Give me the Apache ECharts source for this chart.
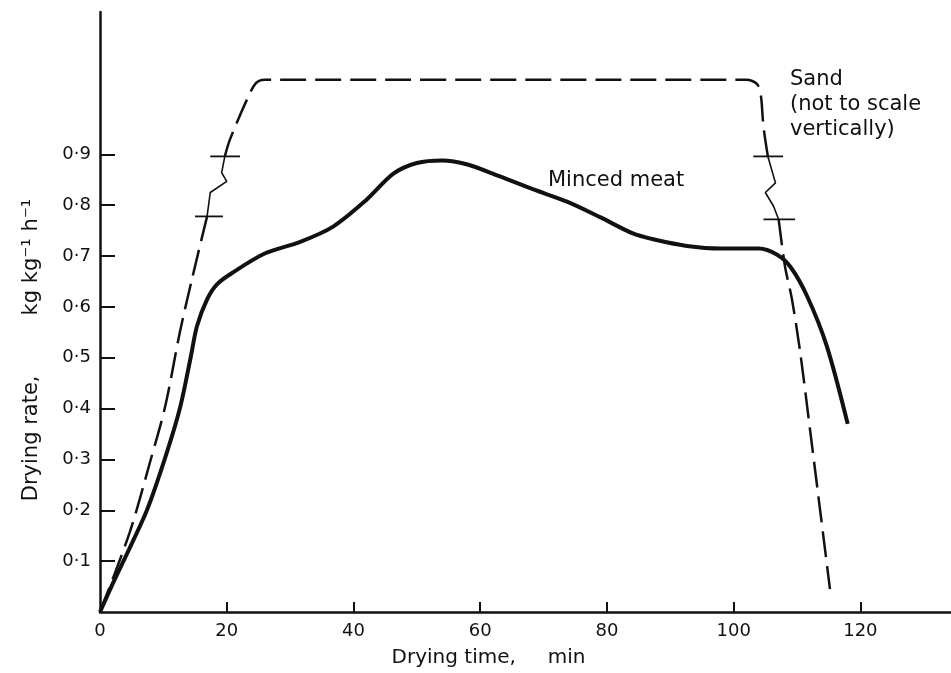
<!DOCTYPE html>
<html>
<head>
<meta charset="utf-8">
<title>Drying rate</title>
<script src="https://cdn.jsdelivr.net/npm/echarts@6/dist/echarts.min.js"></script>
<style>
	html, body { margin: 0; padding: 0; background: #fff; }
	#chart { width: 951px; height: 673px; }
</style>
</head>
<body>
<div id="chart"></div>
<script>
"use strict";

// ticks / labels
var xTicks = [20, 40, 60, 80, 100, 120];
var xLabels = [0, 20, 40, 60, 80, 100, 120];
var yTicks = [0.1, 0.2, 0.3, 0.4, 0.5, 0.6, 0.7, 0.8, 0.9];

// minced meat curve [min, kg/kg/h]
var meat = [
	[0, 0], [1.8, 0.05], [3.7, 0.1], [7.4, 0.2], [10.2, 0.3], [12.6, 0.4],
	[14.3, 0.5], [15.3, 0.562], [16.9, 0.615], [18.5, 0.645], [21, 0.668],
	[26, 0.705], [31.6, 0.728], [36.8, 0.758], [42, 0.81], [46.3, 0.862],
	[50, 0.883], [54, 0.888], [58, 0.88], [63, 0.857], [68.4, 0.831],
	[73.7, 0.807], [79, 0.776], [84, 0.745], [87.3, 0.733], [92.6, 0.72],
	[98, 0.715], [104, 0.715], [106.8, 0.703], [109, 0.678], [111.6, 0.621],
	[114.7, 0.523], [118, 0.37]
];

// sand curve, split where the axis is broken
var sandLow = [
	[0, 0], [4.7, 0.157], [7.9, 0.295], [10.3, 0.405], [12.6, 0.55],
	[14.5, 0.654], [16.9, 0.778]
];
var sandBreakLeft = [
	[16.9, 0.778], [17.4, 0.825], [20.0, 0.847], [19.2, 0.864], [19.7, 0.896]
];
var sandTop = [
	[19.7, 0.896], [20.5, 0.929], [23.2, 1.008], [24.6, 1.04], [26, 1.047],
	[102, 1.047], [103.7, 1.038], [104.3, 1.015], [104.7, 0.955], [105.4, 0.896]
];
var sandBreakRight = [
	[105.4, 0.896], [106.6, 0.844], [105.0, 0.825], [106.3, 0.798], [107.1, 0.772]
];
var sandDown = [
	[107.1, 0.772], [108.1, 0.68], [109.2, 0.615], [110.5, 0.511],
	[112.1, 0.354], [115.2, 0.045]
];

// break marks on the sand curve
var breakMarks = [
	[[17.4, 0.896], [22.1, 0.896]],
	[[15.0, 0.778], [19.4, 0.778]],
	[[103.1, 0.896], [107.8, 0.896]],
	[[104.7, 0.772], [109.7, 0.772]]
];

var FONT = "DejaVu Sans";
var INK = "#111";

function sandPart(data, dashed) {
	return {
		name: "Sand",
		type: "line",
		data: data,
		smooth: dashed ? 0.3 : false,
		symbol: "none",
		silent: true,
		lineStyle: {
			color: INK,
			width: dashed ? 2.5 : 1.6,
			type: dashed ? [26, 9] : "solid"
		}
	};
}

var chart = echarts.init(document.getElementById("chart"));

var series = [
	{
		name: "Minced meat",
		type: "line",
		data: meat,
		smooth: 0.3,
		symbol: "none",
		lineStyle: { color: INK, width: 4 }
	},
	sandPart(sandLow, true),
	sandPart(sandBreakLeft, false),
	sandPart(sandTop, true),
	sandPart(sandBreakRight, false),
	sandPart(sandDown, true)
];

breakMarks.forEach(function (m) {
	series.push({
		type: "line",
		data: m,
		symbol: "none",
		silent: true,
		lineStyle: { color: INK, width: 1.8 }
	});
});

var option = {
	backgroundColor: "#fff",
	animation: false,
	grid: { left: 100, right: 0, top: 12, bottom: 60 },
	xAxis: {
		type: "value",
		min: 0,
		max: 134.3,
		interval: 20,
		name: "Drying time,     min",
		nameLocation: "middle",
		nameGap: 36,
		nameTextStyle: {
			color: INK,
			fontFamily: FONT,
			fontSize: 20,
			padding: [0, 74, 0, 0]
		},
		axisLine: { lineStyle: { color: INK, width: 2.5 } },
		axisTick: {
			inside: true,
			length: 10,
			customValues: xTicks,
			lineStyle: { color: INK, width: 2 }
		},
		axisLabel: {
			customValues: xLabels,
			color: INK,
			fontFamily: FONT,
			fontSize: 18,
			margin: 10
		},
		splitLine: { show: false }
	},
	yAxis: {
		type: "value",
		min: 0,
		max: 1.18,
		interval: 0.1,
		name: "Drying rate,         kg kg\u207B\u00B9 h\u207B\u00B9",
		nameLocation: "middle",
		nameGap: 58,
		nameTextStyle: {
			color: INK,
			fontFamily: FONT,
			fontSize: 21,
			padding: [0, 76, 0, 0]
		},
		axisLine: { lineStyle: { color: INK, width: 2.5 } },
		axisTick: {
			inside: true,
			length: 15,
			customValues: yTicks,
			lineStyle: { color: INK, width: 2 }
		},
		axisLabel: {
			customValues: yTicks,
			color: INK,
			fontFamily: FONT,
			fontSize: 18,
			margin: 9,
			formatter: function (v) {
				return "0\u00B7" + Math.round(v * 10);
			}
		},
		splitLine: { show: false }
	},
	graphic: [
		{
			type: "text",
			left: 548,
			top: 170,
			style: { text: "Minced meat", fill: INK, font: "21px " + FONT }
		},
		{
			type: "text",
			left: 790,
			top: 67,
			style: {
				text: "Sand\n(not to scale\nvertically)",
				fill: INK,
				font: "21px " + FONT,
				lineHeight: 25
			}
		}
	],
	series: series
};

chart.setOption(option);
</script>
</body>
</html>
